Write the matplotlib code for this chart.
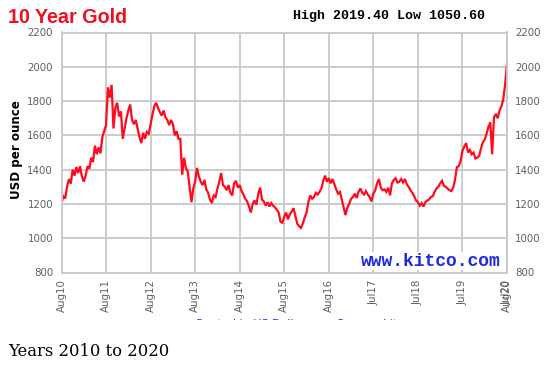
import matplotlib
matplotlib.use("Agg")
import matplotlib.pyplot as plt
from matplotlib.patches import Rectangle
import pandas as pd

precos = [
    # 2010-11
    1204, 1245, 1232, 1300, 1345, 1318, 1400, 1365, 1415, 1380, 1420, 1360,
    1330, 1365, 1420, 1405, 1470, 1445, 1540, 1490, 1530, 1495, 1590, 1625,
    # 2011-12
    1660, 1880, 1820, 1895, 1640, 1760, 1790, 1710, 1740, 1580, 1640, 1700,
    1745, 1780, 1690, 1665, 1690, 1640, 1590, 1555, 1615, 1580, 1620, 1610,
    # 2012-13
    1665, 1720, 1770, 1790, 1760, 1735, 1715, 1745, 1705, 1690, 1660, 1690,
    1665, 1600, 1625, 1580, 1580, 1370, 1470, 1410, 1390, 1300, 1210, 1290,
    # 2013-14
    1330, 1410, 1360, 1330, 1310, 1340, 1285, 1265, 1225, 1205, 1250, 1240,
    1290, 1330, 1380, 1310, 1300, 1280, 1310, 1265, 1250, 1320, 1335, 1295,
    # 2014-15
    1310, 1275, 1255, 1230, 1215, 1185, 1150, 1200, 1220, 1195, 1260, 1295,
    1225, 1215, 1190, 1210, 1185, 1205, 1190, 1180, 1165, 1150, 1095, 1090,
    # 2015-16
    1125, 1150, 1110, 1140, 1155, 1175, 1130, 1085, 1070, 1060, 1085, 1120,
    1150, 1210, 1250, 1230, 1240, 1265, 1255, 1270, 1290, 1335, 1365, 1330,
    # 2016-17
    1350, 1320, 1345, 1315, 1285, 1260, 1270, 1225, 1180, 1135, 1180, 1200,
    1230, 1240, 1260, 1235, 1270, 1290, 1265, 1255, 1275, 1255, 1240, 1215,
    # 2017-18
    1260, 1280, 1320, 1345, 1295, 1280, 1285, 1270, 1295, 1250, 1320, 1340,
    1350, 1325, 1330, 1345, 1325, 1345, 1315, 1300, 1280, 1265, 1245, 1220,
    # 2018-19
    1210, 1190, 1205, 1185, 1210, 1220, 1225, 1240, 1245, 1270, 1290, 1300,
    1320, 1335, 1305, 1300, 1290, 1280, 1275, 1295, 1340, 1415, 1420, 1450,
    # 2019-20
    1510, 1535, 1555, 1500, 1515, 1490, 1500, 1465, 1470, 1480, 1525, 1560,
    1575, 1610, 1650, 1675, 1490, 1705, 1725, 1700, 1745, 1770, 1810, 1900,
    2019,
]
rotulos_x = ["Aug10", "Aug11", "Aug12", "Aug13", "Aug14", "Aug15",
             "Aug16", "Jul17", "Jul18", "Jul19", "Aug20"]
valores_y = [800, 1000, 1200, 1400, 1600, 1800, 2000, 2200]

inicio = pd.Timestamp("2010-08-06")
fim = pd.Timestamp("2020-08-06")
datas = pd.date_range(inicio, fim, periods=len(precos))
ticks_x = [inicio + pd.DateOffset(years=i) for i in range(len(rotulos_x))]

cinza = "#c8c8c8"
fig = plt.figure(figsize=(5.49, 3.65), dpi=100)
ax = fig.add_axes([61.5 / 549, 92.5 / 365, 445.5 / 549, 240 / 365])

ax.plot(datas, precos, color="#ff0a1e", lw=1.6, solid_joinstyle="miter")
ax.set_xlim(inicio, fim)
ax.set_ylim(800, 2200)
ax.set_yticks(valores_y)
ax.set_xticks(ticks_x)
ax.set_xticklabels(rotulos_x, rotation=90)
# second label hidden under Aug20, as in the original
ax.set_xticks([fim - pd.Timedelta(days=6)], minor=True)
ax.set_xticklabels(["Jul20"], minor=True, rotation=90)
ax.grid(True, color=cinza, lw=1.3)
for lado in ax.spines.values():
    lado.set_color(cinza)
    lado.set_linewidth(1.3)
ax.tick_params(axis="both", which="both", length=0, colors="#606060", labelsize=7.4)
ax.tick_params(axis="y", labelright=True, pad=6)
ax.tick_params(axis="x", which="both", pad=5)

fig.text(8 / 549, 1 - 23.3 / 365, "10 Year Gold", color="#ee1122",
         family="Liberation Sans", weight="bold", fontsize=14.2, va="baseline")
fig.text(293 / 549, 1 - 19 / 365, "High 2019.40 Low 1050.60", color="black",
         family="Liberation Mono", weight="bold", fontsize=9.6, va="baseline")
fig.text(17 / 549, 1 - 150 / 365, "USD per ounce", rotation=90, color="black",
         weight="bold", fontsize=8.6, ha="center", va="center")
ax.text(0.985, 0.012, "www.kitco.com", transform=ax.transAxes, ha="right",
        va="bottom", color="#1f2be0", family="Liberation Mono", weight="bold",
        fontsize=13, zorder=5,
        bbox=dict(facecolor="white", edgecolor="none", pad=0.5))

# blue caption, almost fully hidden under the white band
fig.text(195 / 549, 1 - 327 / 365, "Quoted in US Dollars per Ounce - kitco.com",
         color="#2233dd", fontsize=8, va="baseline")
fig.add_artist(Rectangle((0, 0), 1, 1 - 320 / 365, transform=fig.transFigure,
                         facecolor="white", edgecolor="none", zorder=5))
fig.text(8 / 549, 1 - 356 / 365, "Years 2010 to 2020", color="black",
         family="DejaVu Serif", fontsize=11.8, va="baseline", zorder=6)

fig.savefig("out.png", dpi=100, facecolor="white")
